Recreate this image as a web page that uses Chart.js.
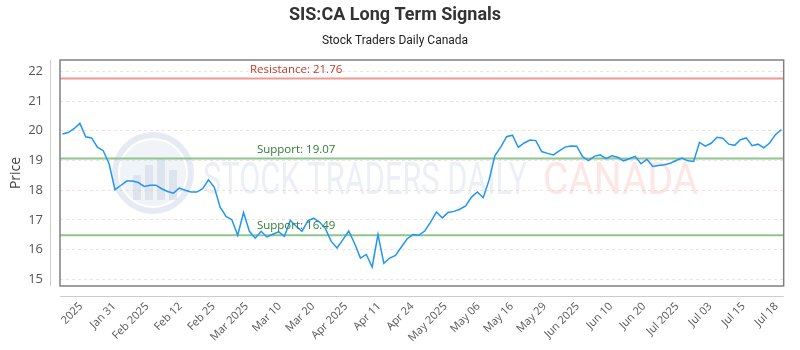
<!DOCTYPE html>
<html>
<head>
<meta charset="utf-8">
<script src="https://cdn.jsdelivr.net/npm/chart.js@4.4.1/dist/chart.umd.min.js"></script>
<style>
  html, body { margin: 0; padding: 0; background: #fff; }
  #wrap { width: 800px; height: 350px; }
</style>
</head>
<body>
<div id="wrap"><canvas id="chart"></canvas></div>
<script>
// -- data ----------------------------------------------------------------

const PRICES = [
  19.89, 19.94, 20.07, 20.25, 19.80, 19.76, 19.45, 19.33, 18.89, 18.02,
  18.16, 18.31, 18.31, 18.26, 18.13, 18.17, 18.17, 18.05, 17.96, 17.90,
  18.07, 18.00, 17.94, 17.94, 18.05, 18.35, 18.10, 17.43, 17.12, 17.01,
  16.49, 17.25, 16.62, 16.39, 16.62, 16.43, 16.52, 16.60, 16.45, 16.99,
  16.79, 16.62, 16.97, 17.06, 16.93, 16.71, 16.28, 16.06, 16.34, 16.63,
  16.21, 15.72, 15.84, 15.42, 16.51, 15.54, 15.72, 15.81, 16.09, 16.37,
  16.51, 16.49, 16.63, 16.93, 17.27, 17.07, 17.25, 17.29, 17.36, 17.47,
  17.77, 17.94, 17.75, 18.34, 19.17, 19.45, 19.80, 19.85, 19.44, 19.59,
  19.69, 19.67, 19.30, 19.24, 19.19, 19.32, 19.45, 19.49, 19.48, 19.13,
  19.00, 19.14, 19.19, 19.06, 19.16, 19.11, 18.99, 19.06, 19.14, 18.89,
  19.04, 18.80, 18.83, 18.86, 18.91, 19.00, 19.08, 18.99, 18.97, 19.61,
  19.48, 19.58, 19.78, 19.75, 19.55, 19.51, 19.70, 19.76, 19.50, 19.55,
  19.43, 19.59, 19.87, 20.04,
];

const TICK_LABELS = [
  '2025', 'Jan 31', 'Feb 2025', 'Feb 12', 'Feb 25', 'Mar 2025', 'Mar 10',
  'Mar 20', 'Apr 2025', 'Apr 11', 'Apr 24', 'May 2025', 'May 06', 'May 16',
  'May 29', 'Jun 2025', 'Jun 10', 'Jun 20', 'Jul 2025', 'Jul 03', 'Jul 15',
  'Jul 18',
];

const RESISTANCE = [21.76];
const SUPPORTS = [19.07, 16.49];

// -- layout / style ------------------------------------------------------

const X_MIN = -0.4, X_MAX = PRICES.length - 1 + 0.4;
const TICK_FIRST = 3.2, TICK_STEP = 5.666;
const LABEL_AT = 40;   // x index the level labels are centred on

const FONT = "'Open Sans', sans-serif";
const NARROW = "'Liberation Sans Narrow', 'Roboto', sans-serif";

const C = {
  line:    '#2196f3',
  resist:  '#f09a92',
  resistT: '#c0392b',
  support: '#8fc48f',
  supportT:'#2e7d32',
  grid:    '#f0e2e2',
  frame:   '#808080',
  axis:    '#cccccc',
  text:    '#555555',
};

const levelSets = [];
RESISTANCE.forEach(v => levelSets.push({ v, color: C.resist, tcolor: C.resistT, name: 'Resistance' }));
SUPPORTS.forEach(v => levelSets.push({ v, color: C.support, tcolor: C.supportT, name: 'Support' }));

// watermark + frame + level labels
const decor = {
  id: 'decor',
  beforeDatasetsDraw(chart) {
    const { ctx, chartArea: a } = chart;
    ctx.save();
    ctx.beginPath();
    ctx.rect(a.left, a.top, a.right - a.left, a.bottom - a.top);
    ctx.clip();
    // logo ring
    ctx.strokeStyle = 'rgba(200,210,228,0.45)';
    ctx.lineWidth = 6;
    ctx.beginPath();
    ctx.arc(153, 173, 38, 0, Math.PI * 2);
    ctx.stroke();
    ctx.fillStyle = 'rgba(205,214,232,0.30)';
    ctx.beginPath();
    ctx.arc(153, 173, 33, 0, Math.PI * 2);
    ctx.fill();
    ctx.fillStyle = 'rgba(190,200,222,0.35)';
    [[133, 175, 8, 25], [145, 165, 8, 35], [157, 158, 8, 42], [169, 170, 8, 30]].forEach(b => ctx.fillRect(b[0], b[1], b[2], b[3]));
    // words
    ctx.textBaseline = 'alphabetic';
    ctx.font = "44px 'Liberation Sans Narrow', 'Roboto', sans-serif";
    const drawFit = (txt, x0, x1, color) => {
      const w = ctx.measureText(txt).width;
      ctx.save();
      ctx.translate(x0, 194);
      ctx.scale((x1 - x0) / w, 1);
      ctx.fillStyle = color;
      ctx.fillText(txt, 0, 0);
      ctx.restore();
    };
    drawFit('STOCK TRADERS DAILY', 203, 527, 'rgba(196,206,226,0.33)');
    drawFit('CANADA', 543, 698, 'rgba(250,180,180,0.33)');
    ctx.restore();
  },
  afterDatasetsDraw(chart) {
    const { ctx, scales: { x, y } } = chart;
    ctx.save();
    ctx.font = "11.5px " + FONT;
    ctx.textAlign = 'center';
    ctx.textBaseline = 'middle';
    levelSets.forEach(l => {
      ctx.fillStyle = l.tcolor;
      ctx.fillText(l.name + ': ' + l.v.toFixed(2), x.getPixelForValue(LABEL_AT), y.getPixelForValue(l.v) - 9);
    });
    ctx.restore();
  },
  afterDraw(chart) {
    const { ctx, chartArea: a } = chart;
    ctx.save();
    ctx.strokeStyle = C.frame;
    ctx.lineWidth = 1.5;
    ctx.strokeRect(a.left, a.top, a.right - a.left, a.bottom - a.top);
    ctx.strokeStyle = C.axis;
    ctx.lineWidth = 1;
    ctx.beginPath();
    ctx.moveTo(a.left - 10 + 0.5, a.top);
    ctx.lineTo(a.left - 10 + 0.5, a.bottom);
    ctx.moveTo(a.left, a.bottom + 10 + 0.5);
    ctx.lineTo(a.right, a.bottom + 10 + 0.5);
    ctx.stroke();
    ctx.restore();
  },
};

const datasets = [{
  data: PRICES.map((p, i) => ({ x: i, y: p })),
  borderColor: C.line,
  borderWidth: 1.5,
  pointRadius: 0,
  tension: 0,
  order: 1,
}];
levelSets.forEach(l => datasets.push({
  data: [{ x: X_MIN, y: l.v }, { x: X_MAX, y: l.v }],
  borderColor: l.color,
  borderWidth: 2,
  pointRadius: 0,
  order: 2,
}));

new Chart(document.getElementById('chart'), {
  type: 'line',
  data: { datasets },
  options: {
    responsive: true,
    maintainAspectRatio: false,
    animation: false,
    layout: { padding: { left: 0, right: 10, top: 3, bottom: 0 } },
    plugins: {
      legend: { display: false },
      tooltip: { enabled: false },
      title: {
        display: true,
        text: 'SIS:CA Long Term Signals',
        color: '#333',
        font: { family: NARROW, size: 18, weight: 'bold' },
        padding: { top: 2, bottom: 7 },
      },
      subtitle: {
        display: true,
        text: 'Stock Traders Daily Canada',
        color: '#222',
        font: { family: NARROW, size: 12 },
        padding: { bottom: 12 },
      },
    },
    scales: {
      x: {
        type: 'linear',
        min: X_MIN,
        max: X_MAX,
        afterBuildTicks: axis => {
          axis.ticks = TICK_LABELS.map((t, i) => ({ value: TICK_FIRST + i * TICK_STEP }));
        },
        afterFit: s => { s.height = 64; },
        grid: { display: false, drawTicks: false },
        border: { display: false },
        ticks: {
          autoSkip: false,
          minRotation: 45,
          maxRotation: 45,
          padding: 14,
          color: C.text,
          font: { family: FONT, size: 11 },
          callback: (v, i) => TICK_LABELS[i],
        },
      },
      y: {
        min: 14.78,
        max: 22.38,
        afterFit: s => { s.width = 60; },
        title: {
          display: true,
          text: 'Price',
          color: '#444',
          font: { family: FONT, size: 14 },
          padding: { top: 8, bottom: 0 },
        },
        grid: { color: C.grid, drawTicks: false, lineWidth: 1 },
        border: { display: false, dash: [3, 3] },
        ticks: {
          stepSize: 1,
          includeBounds: false,
          padding: 17,
          color: C.text,
          font: { family: FONT, size: 13 },
        },
      },
    },
  },
  plugins: [decor],
});
</script>
</body>
</html>
